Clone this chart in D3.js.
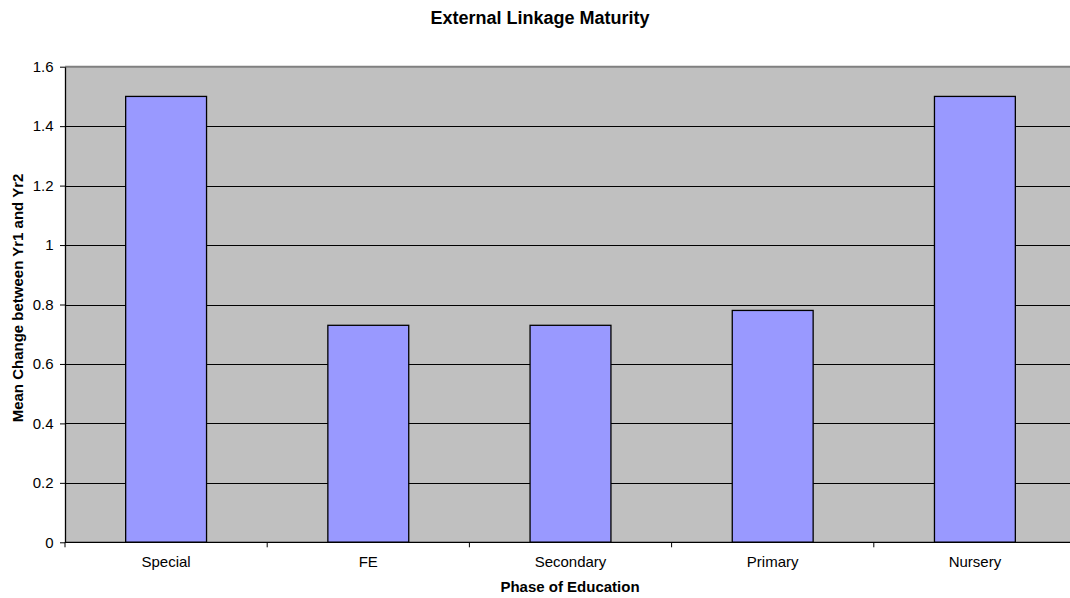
<!DOCTYPE html>
<html>
<head>
<meta charset="utf-8">
<script src="https://cdnjs.cloudflare.com/ajax/libs/d3/7.8.5/d3.min.js"></script>
<style>
  body { margin: 0; background: #fff; }
  svg { display: block; font-family: "Liberation Sans", Arial, sans-serif; }
</style>
</head>
<body>
<svg width="1070" height="598"></svg>
<script>
// chart data
var categories = ["Special", "FE", "Secondary", "Primary", "Nursery"];
var values = [1.5, 0.73, 0.73, 0.78, 1.5];
var yTicks = [0, 0.2, 0.4, 0.6, 0.8, 1, 1.2, 1.4, 1.6];

var svg = d3.select("svg");
var plotLeft = 65, plotRight = 1076, plotTop = 66.7, plotBottom = 542.3;

var x = d3.scaleBand()
    .domain(categories)
    .range([plotLeft, plotRight])
    .paddingInner(0.6)
    .paddingOuter(0.3);

var y = d3.scaleLinear()
    .domain([0, 1.6])
    .range([plotBottom, plotTop]);

// plot background
svg.append("rect")
    .attr("x", plotLeft).attr("y", plotTop)
    .attr("width", plotRight - plotLeft).attr("height", plotBottom - plotTop)
    .attr("fill", "#c0c0c0");

// gridlines
svg.selectAll("line.grid")
    .data(yTicks.filter(function(d) { return d > 0 && d < 1.6; }))
    .enter().append("line")
    .attr("class", "grid")
    .attr("x1", plotLeft).attr("x2", plotRight)
    .attr("y1", function(d) { return Math.round(y(d)) + 0.5; })
    .attr("y2", function(d) { return Math.round(y(d)) + 0.5; })
    .attr("stroke", "#000")
    .attr("stroke-width", 1);

// top border
svg.append("line")
    .attr("x1", plotLeft).attr("x2", plotRight)
    .attr("y1", plotTop).attr("y2", plotTop)
    .attr("stroke", "#808080")
    .attr("stroke-width", 2);

// bars
svg.selectAll("rect.bar")
    .data(values)
    .enter().append("rect")
    .attr("class", "bar")
    .attr("x", function(d, i) { return x(categories[i]); })
    .attr("y", function(d) { return y(d); })
    .attr("width", x.bandwidth())
    .attr("height", function(d) { return plotBottom - y(d); })
    .attr("fill", "#9999ff")
    .attr("stroke", "#000")
    .attr("stroke-width", 1.3);

// y axis
var yAxis = svg.append("g")
    .attr("transform", "translate(" + plotLeft + ",0)")
    .call(d3.axisLeft(y).tickValues(yTicks).tickSize(5).tickSizeOuter(0)
        .tickFormat(function(d) { return String(d); }));
yAxis.selectAll("path, line").attr("stroke", "#000");
yAxis.select(".domain").attr("stroke-width", 1.3);
yAxis.selectAll("text")
    .attr("font-size", 15)
    .attr("font-family", "Liberation Sans, Arial, sans-serif")
    .attr("fill", "#000")
    .attr("x", -11.5);

// x axis with ticks at band edges
var step = x.step();
var edges = d3.range(categories.length + 1).map(function(i) { return plotLeft + i * step; });
svg.append("line")
    .attr("x1", plotLeft).attr("x2", plotRight)
    .attr("y1", plotBottom).attr("y2", plotBottom)
    .attr("stroke", "#000")
    .attr("stroke-width", 1.3);
svg.selectAll("line.xtick")
    .data(edges)
    .enter().append("line")
    .attr("class", "xtick")
    .attr("x1", function(d) { return d; }).attr("x2", function(d) { return d; })
    .attr("y1", plotBottom).attr("y2", plotBottom + 5)
    .attr("stroke", "#000");
svg.selectAll("text.xlabel")
    .data(categories)
    .enter().append("text")
    .attr("class", "xlabel")
    .attr("x", function(d) { return x(d) + x.bandwidth() / 2; })
    .attr("y", 567)
    .attr("text-anchor", "middle")
    .attr("font-size", 15)
    .text(function(d) { return d; });

// titles
svg.append("text")
    .attr("x", 540).attr("y", 23.5)
    .attr("text-anchor", "middle")
    .attr("font-size", 18)
    .attr("font-weight", "bold")
    .text("External Linkage Maturity");

svg.append("text")
    .attr("x", 570).attr("y", 592)
    .attr("text-anchor", "middle")
    .attr("font-size", 15)
    .attr("font-weight", "bold")
    .text("Phase of Education");

svg.append("text")
    .attr("transform", "translate(23,298) rotate(-90)")
    .attr("text-anchor", "middle")
    .attr("font-size", 15)
    .attr("font-weight", "bold")
    .text("Mean Change between Yr1 and Yr2");
</script>
</body>
</html>
